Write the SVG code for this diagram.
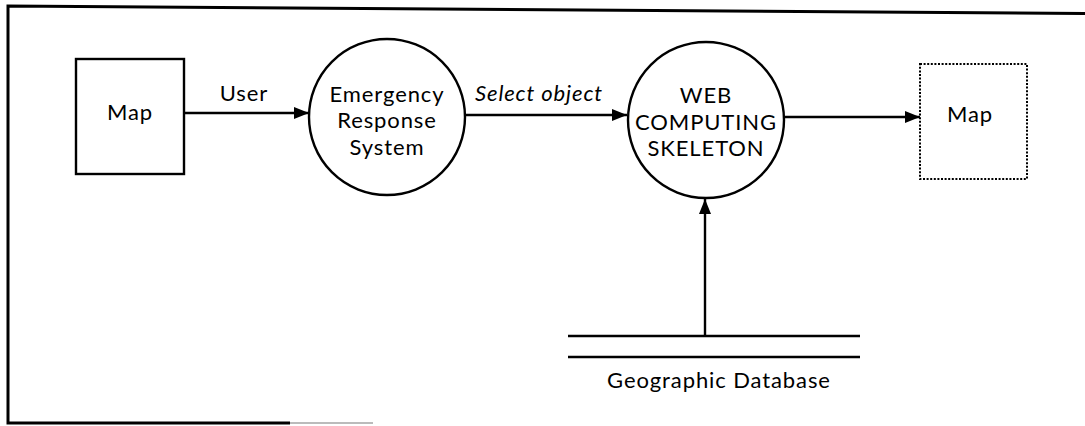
<svg xmlns="http://www.w3.org/2000/svg" width="1085" height="426" viewBox="0 0 1085 426">
  <style>
    .frame { fill: none; stroke: #000; stroke-width: 3; }
    .shape { fill: #fff; stroke: #000; stroke-width: 2.4; }
    .dotted { fill: #fff; stroke: #000; stroke-width: 2; stroke-dasharray: 2 1.6; }
    .flow { fill: none; stroke: #000; stroke-width: 2.4; }
    .label { font-family: Lato, "Open Sans", sans-serif; font-size: 22px; letter-spacing: 0.9px; fill: #000; text-anchor: middle; }
    .italic { font-style: italic; }
  </style>
  <defs>
    <marker id="arrow" viewBox="0 0 15 12" refX="15" refY="6" markerWidth="15" markerHeight="12" markerUnits="userSpaceOnUse" orient="auto">
      <path d="M0,0 L15,6 L0,12 Z" fill="#000"/>
    </marker>
  </defs>

  <rect width="1085" height="426" fill="#fff"/>

  <!-- outer frame (open on the right) -->
  <g id="frame">
    <path class="frame" d="M1085,13.5 L8,6 L8,423 L290,423"/>
    <path d="M290,423 L373,423" stroke="#bbb" stroke-width="2" fill="none"/>
  </g>

  <!-- connectors -->
  <g id="connectors">
    <line class="flow" x1="184" y1="113" x2="309" y2="113" marker-end="url(#arrow)"/>
    <text class="label" x="244" y="101">User</text>
    <line class="flow" x1="465" y1="115" x2="627" y2="115" marker-end="url(#arrow)"/>
    <text class="label italic" x="539" y="101">Select object</text>
    <line class="flow" x1="785" y1="117" x2="920" y2="117" marker-end="url(#arrow)"/>
    <line class="flow" x1="705" y1="336" x2="705" y2="199" marker-end="url(#arrow)"/>
  </g>

  <!-- source entity -->
  <g id="map-source">
    <rect class="shape" x="76" y="59" width="108" height="115"/>
    <text class="label" x="130" y="120">Map</text>
  </g>

  <!-- process 1 -->
  <g id="emergency-response-system">
    <circle class="shape" cx="387" cy="117" r="78"/>
    <text class="label" x="387" y="101.5">Emergency<tspan x="387" dy="26.5">Response</tspan><tspan x="387" dy="26.5">System</tspan></text>
  </g>

  <!-- process 2 -->
  <g id="web-computing-skeleton">
    <circle class="shape" cx="706" cy="120" r="78"/>
    <text class="label" x="706" y="103">WEB<tspan x="706" dy="26.5">COMPUTING</tspan><tspan x="706" dy="26.5">SKELETON</tspan></text>
  </g>

  <!-- destination entity -->
  <g id="map-target">
    <rect class="dotted" x="920" y="64" width="107" height="115"/>
    <text class="label" x="970" y="122">Map</text>
  </g>

  <!-- data store -->
  <g id="geographic-database">
    <line class="flow" x1="568" y1="336" x2="860" y2="336"/>
    <line class="flow" x1="568" y1="357" x2="860" y2="357"/>
    <text class="label" x="719" y="388">Geographic Database</text>
  </g>
</svg>
